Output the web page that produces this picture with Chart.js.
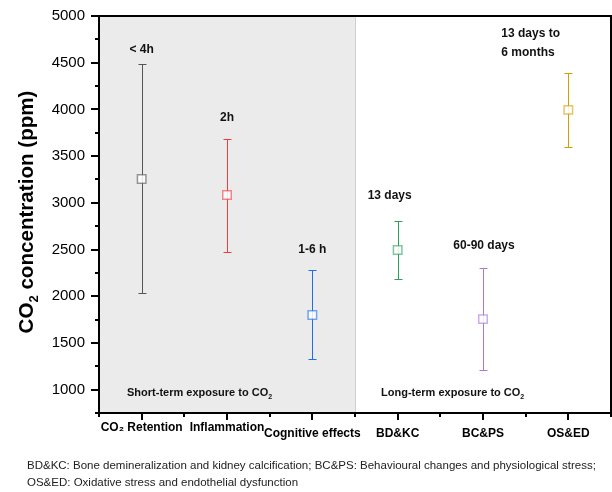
<!DOCTYPE html>
<html>
<head>
<meta charset="utf-8">
<script src="https://cdn.jsdelivr.net/npm/chart.js@4.4.0/dist/chart.umd.min.js"></script>
<style>
  html, body { margin: 0; padding: 0; background: #fff; }
</style>
</head>
<body>
<canvas id="chart" width="612" height="492"></canvas>
<script>
// categories and values (ppm)
const categories = ['CO₂ Retention', 'Inflammation', 'Cognitive effects', 'BD&KC', 'BC&PS', 'OS&ED'];
const meanValues = [3255, 3084, 1800, 2495, 1755, 3995];
const lowerValues = [2035, 2472, 1330, 2183, 1210, 3598];
const upperValues = [4483, 3685, 2278, 2808, 2300, 4387];
const durationLabels = [['< 4h'], ['2h'], ['1-6 h'], ['13 days'], ['60-90 days'], ['13 days to', '6 months']];
const yTickValues = [1000, 1500, 2000, 2500, 3000, 3500, 4000, 4500, 5000];
const barColors = ['#555555', '#f23c3c', '#1f6fe0', '#2f9e63', '#a678e0', '#d39e00'];
const footnoteLines = [
  'BD&KC: Bone demineralization and kidney calcification; BC&PS: Behavioural changes and physiological stress;',
  'OS&ED: Oxidative stress and endothelial dysfunction'
];

const FONT = '"Liberation Sans", Arial, sans-serif';

function withAlpha(hex, a) {
  const n = parseInt(hex.slice(1), 16);
  return 'rgba(' + (n >> 16) + ',' + ((n >> 8) & 255) + ',' + (n & 255) + ',' + a + ')';
}

// draws text where "2" after CO is a subscript
function drawCO2Text(ctx, before, after, x, y, size, align) {
  ctx.font = 'bold ' + size + 'px ' + FONT;
  const subSize = Math.round(size * 0.65);
  const w1 = ctx.measureText(before).width;
  ctx.font = 'bold ' + subSize + 'px ' + FONT;
  const w2 = ctx.measureText('2').width;
  ctx.font = 'bold ' + size + 'px ' + FONT;
  const w3 = ctx.measureText(after).width;
  const total = w1 + w2 + w3;
  let sx = align === 'center' ? x - total / 2 : x;
  ctx.textAlign = 'left';
  ctx.textBaseline = 'alphabetic';
  ctx.fillText(before, sx, y);
  ctx.font = 'bold ' + subSize + 'px ' + FONT;
  ctx.fillText('2', sx + w1, y + size * 0.25);
  ctx.font = 'bold ' + size + 'px ' + FONT;
  ctx.fillText(after, sx + w1 + w2, y);
}

const decorPlugin = {
  id: 'decor',
  beforeDatasetsDraw(chart) {
    const ctx = chart.ctx;
    const area = chart.chartArea;
    const x = chart.scales.x, y = chart.scales.y;
    // short-term shading up to the boundary between category 3 and 4
    const split = (x.getPixelForValue(2) + x.getPixelForValue(3)) / 2;
    ctx.save();
    ctx.fillStyle = '#ebebeb';
    ctx.fillRect(area.left, area.top, split - area.left, area.bottom - area.top);
    ctx.strokeStyle = '#cfcfcf';
    ctx.lineWidth = 1;
    ctx.beginPath();
    ctx.moveTo(Math.round(split) + 0.5, area.top);
    ctx.lineTo(Math.round(split) + 0.5, area.bottom);
    ctx.stroke();

    // error bars
    ctx.lineWidth = 1;
    categories.forEach((c, i) => {
      const px = Math.round(x.getPixelForValue(i)) + 0.5;
      const yTop = Math.round(y.getPixelForValue(upperValues[i])) + 0.5;
      const yBot = Math.round(y.getPixelForValue(lowerValues[i])) + 0.5;
      ctx.strokeStyle = barColors[i];
      ctx.beginPath();
      ctx.moveTo(px, yTop); ctx.lineTo(px, yBot);
      ctx.moveTo(px - 4, yTop); ctx.lineTo(px + 4, yTop);
      ctx.moveTo(px - 4, yBot); ctx.lineTo(px + 4, yBot);
      ctx.stroke();
    });
    ctx.restore();
  },
  afterDraw(chart) {
    const ctx = chart.ctx;
    const area = chart.chartArea;
    const x = chart.scales.x, y = chart.scales.y;
    ctx.save();
    ctx.fillStyle = '#111';

    // duration labels above each bar
    const shifts = [[0, 15], [0, 21], [0, 21], [-8, 25], [1, 23], [-37, 21]];
    ctx.font = 'bold 12px ' + FONT;
    ctx.textBaseline = 'middle';
    durationLabels.forEach((lines, i) => {
      const px = x.getPixelForValue(i) + shifts[i][0];
      const top = y.getPixelForValue(upperValues[i]) - shifts[i][1];
      ctx.textAlign = lines.length > 1 ? 'left' : 'center';
      const lx = lines.length > 1 ? px - 30 : px;
      lines.forEach((t, k) => {
        ctx.fillText(t, lx, top - (lines.length - 1 - k) * 19);
      });
    });

    // region labels
    const split = (x.getPixelForValue(2) + x.getPixelForValue(3)) / 2;
    drawCO2Text(ctx, 'Short-term exposure to CO', '', area.left + 28, area.bottom - 17, 11, 'left');
    drawCO2Text(ctx, 'Long-term exposure to CO', '', split + 26, area.bottom - 17, 11, 'left');

    // frame
    ctx.strokeStyle = '#000';
    ctx.lineWidth = 2;
    ctx.strokeRect(area.left, area.top, area.right - area.left, area.bottom - area.top);

    // y ticks: major every 500, minor every 250
    ctx.lineWidth = 2;
    ctx.beginPath();
    for (let v = y.min; v <= y.max; v += 250) {
      const py = Math.round(y.getPixelForValue(v));
      const len = v % 500 === 0 ? 8 : 4;
      ctx.moveTo(area.left - len, py);
      ctx.lineTo(area.left, py);
    }
    // x ticks: major at categories, minor at boundaries
    for (let i = -0.5; i <= categories.length - 0.5; i += 0.5) {
      const px = Math.round(x.getPixelForValue(i));
      const len = Number.isInteger(i) ? 7 : 4;
      ctx.moveTo(px, area.bottom);
      ctx.lineTo(px, area.bottom + len);
    }
    ctx.stroke();

    // y axis title
    ctx.save();
    ctx.translate(26, 212);
    ctx.rotate(-Math.PI / 2);
    ctx.fillStyle = '#000';
    drawCO2Text(ctx, 'CO', ' concentration (ppm)', 0, 7, 20.6, 'center');
    ctx.restore();

    // footnote
    ctx.font = '11.5px ' + FONT;
    ctx.textAlign = 'left';
    ctx.textBaseline = 'middle';
    ctx.fillStyle = '#222';
    footnoteLines.forEach((t, k) => ctx.fillText(t, 27, 466 + k * 17));
    ctx.restore();
  }
};

const labelLineHeights = [14, 14, 26, 26, 26, 26];

new Chart(document.getElementById('chart'), {
  type: 'line',
  data: {
    labels: categories,
    datasets: [{
      data: meanValues,
      showLine: false,
      pointStyle: 'rect',
      pointRadius: 6,
      pointBorderWidth: 1.5,
      pointBackgroundColor: 'rgba(255,255,255,0.85)',
      pointBorderColor: barColors.map(c => withAlpha(c, 0.6))
    }, {
      data: meanValues,
      showLine: false,
      pointStyle: 'rect',
      pointRadius: 0.8,
      pointBorderWidth: 0,
      pointBackgroundColor: barColors
    }]
  },
  options: {
    responsive: false,
    animation: false,
    layout: { autoPadding: false, padding: { top: 16, right: 1, left: 0, bottom: 0 } },
    plugins: { legend: { display: false }, tooltip: { enabled: false } },
    scales: {
      x: {
        type: 'category',
        offset: true,
        grid: { display: false, drawTicks: true, tickLength: 7 },
        border: { display: false },
        ticks: {
          autoSkip: false,
          maxRotation: 0,
          minRotation: 0,
          padding: 1,
          color: '#000',
          font: ctx => ({ family: FONT, size: 12, weight: 'bold', lineHeight: labelLineHeights[ctx.index] / 12 })
        },
        afterFit: s => { s.height = 79; s.paddingLeft = 0; s.paddingRight = 0; }
      },
      y: {
        min: 750,
        max: 5000,
        grid: { display: false, drawTicks: true, tickLength: 8 },
        border: { display: false },
        ticks: {
          stepSize: 250,
          padding: 6,
          color: '#000',
          font: { family: FONT, size: 15 },
          callback: v => yTickValues.includes(v) ? String(v) : ''
        },
        afterFit: s => { s.width = 99; s.paddingTop = 0; s.paddingBottom = 0; }
      }
    }
  },
  plugins: [decorPlugin]
});
</script>
</body>
</html>
